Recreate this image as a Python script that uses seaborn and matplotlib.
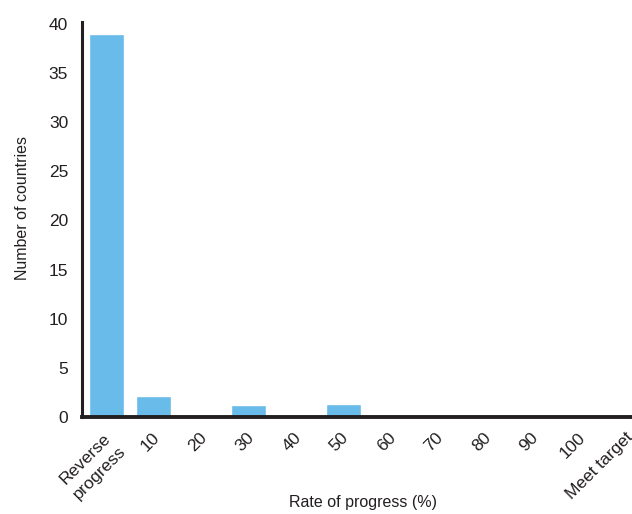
import matplotlib
matplotlib.use("Agg")
import matplotlib.pyplot as plt
from matplotlib.transforms import ScaledTranslation
import seaborn as sns
import pandas as pd

categories = ["Reverse\nprogress", "10", "20", "30", "40", "50", "60", "70", "80", "90", "100", "Meet target"]
counts = [39, 2.15, 0, 1.2, 0.25, 1.3, 0, 0.25, 0.25, 0.25, 0.25, 0]

sns.set_theme(style="white")
plt.rcParams["font.family"] = ["Liberation Sans", "DejaVu Sans"]
TXT = "#231f20"
FS = 11.5
TFS = 12.5

df = pd.DataFrame({"cat": categories, "n": counts})
W, H = 632, 514
fig = plt.figure(figsize=(W / 100, H / 100), dpi=100)
ax = fig.add_axes([82 / W, (H - 417) / H, (W - 82) / W, (417 - 22) / H])
sns.barplot(data=df, x="cat", y="n", color="#69bbe9", saturation=1, width=0.74, ax=ax)
ax.set_xlim(-0.517, 11.09)
ax.set_ylim(0, 40.2)
ax.set_yticks(range(0, 45, 5))
ax.tick_params(axis="both", length=0, labelsize=TFS, colors=TXT)
ax.tick_params(axis="y", pad=10)
ax.tick_params(axis="x", pad=0)
offset = ScaledTranslation(-2.5 / 100, -13 / 100, fig.dpi_scale_trans)
for lab in ax.get_xticklabels():
    lab.set_rotation(45)
    lab.set_ha("right")
    lab.set_va("top")
    lab.set_rotation_mode("anchor")
    lab.set_multialignment("center")
    lab.set_linespacing(1.4)
    lab.set_transform(lab.get_transform() + offset)
ax.set_xlabel("")
ax.set_ylabel("")
fig.text(363 / W, 1 - 503 / H, "Rate of progress (%)", ha="center", va="center", fontsize=FS, color=TXT)
fig.text(23 / W, 1 - 208 / H, "Number of countries", ha="center", va="center", rotation=90, fontsize=FS, color=TXT)
for s in ["top", "right"]:
    ax.spines[s].set_visible(False)
ax.spines["left"].set_linewidth(2.2)
ax.spines["bottom"].set_linewidth(2.8)
ax.spines["left"].set_color(TXT)
ax.spines["bottom"].set_color(TXT)
fig.savefig("out.png", dpi=100)
